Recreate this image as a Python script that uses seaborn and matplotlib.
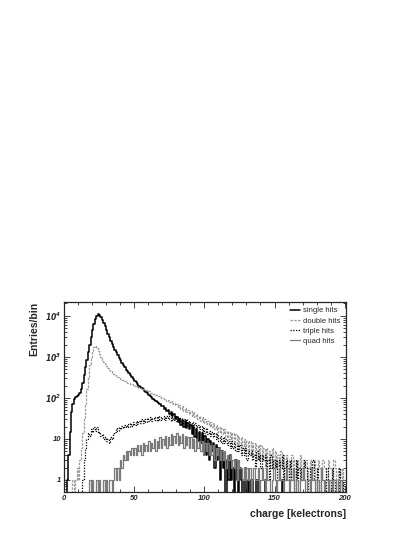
import matplotlib
matplotlib.use("Agg")
import matplotlib.pyplot as plt
from matplotlib.ticker import LogLocator, NullFormatter
import numpy as np
import pandas as pd
import seaborn as sns

# bin centres in kelectrons (1 kelectron bins)
charge = np.arange(200) + 0.5

single_hits = [
    0, 0, 1, 4, 15, 45, 70, 95, 105, 112,
    120, 135, 165, 230, 360, 560, 850, 1300, 2000, 3000,
    4400, 6200, 8200, 10000, 11000, 10500, 9400, 8000, 6700, 5500,
    4500, 3700, 3000, 2500, 2100, 1750, 1500, 1280, 1100, 950,
    820, 720, 630, 560, 490, 440, 395, 355, 320, 290,
    262, 240, 218, 200, 186, 172, 160, 148, 137, 128,
    119, 110, 104, 96, 90, 84, 78, 74, 69, 64,
    62, 55, 57, 47, 50, 41, 45, 36, 40, 31,
    34, 26, 31, 22, 29, 20, 27, 18, 24, 17,
    22, 13, 19, 11, 17, 9, 15, 8, 14, 6,
    12, 4, 10, 3, 9, 5, 8, 2, 7, 3,
    6, 1, 5, 2, 4, 0, 3, 1, 4, 1,
    2, 0, 3, 1, 0, 2, 1, 0, 1, 2,
    0, 1, 0, 1, 1, 0, 0, 1, 0, 0,
    0, 0, 0, 1, 0, 0, 0, 0, 0, 0,
    0, 0, 0, 0, 0, 1, 0, 0, 0, 0,
    0, 0, 0, 0, 0, 0, 0, 0, 0, 0,
    0, 0, 0, 0, 0, 0, 0, 0, 0, 0,
    0, 0, 0, 0, 0, 0, 0, 0, 0, 0,
    0, 0, 0, 0, 0, 0, 0, 0, 0, 0,
]

double_hits = [
    0, 0, 0, 0, 0, 0, 1, 0, 1, 2,
    1, 3, 6, 14, 30, 70, 160, 330, 620, 1000,
    1400, 1750, 1800, 1650, 1400, 1180, 1000, 860, 760, 670,
    600, 540, 490, 450, 415, 385, 360, 340, 320, 305,
    290, 278, 266, 255, 245, 236, 228, 220, 212, 205,
    198, 190, 188, 178, 176, 166, 165, 155, 154, 144,
    144, 134, 134, 125, 126, 116, 117, 108, 110, 100,
    102, 92, 95, 85, 88, 78, 82, 72, 76, 66,
    70, 60, 66, 54, 62, 49, 57, 45, 52, 41,
    48, 37, 44, 34, 40, 31, 37, 28, 34, 25,
    31, 23, 28, 21, 26, 19, 24, 17, 22, 15,
    20, 14, 18, 13, 17, 11, 16, 10, 15, 9,
    14, 8, 13, 7, 12, 7, 11, 6, 10, 5,
    9, 5, 9, 4, 8, 4, 8, 3, 7, 3,
    7, 3, 6, 2, 6, 3, 5, 2, 6, 2,
    5, 2, 4, 1, 5, 2, 4, 1, 4, 2,
    3, 1, 4, 2, 3, 1, 3, 2, 4, 1,
    3, 2, 3, 1, 2, 3, 1, 2, 3, 1,
    2, 3, 2, 1, 3, 2, 2, 1, 3, 2,
    2, 1, 3, 2, 1, 2, 2, 1, 2, 1,
]

triple_hits = [
    0, 0, 0, 0, 0, 0, 0, 0, 0, 0,
    0, 0, 0, 1, 3, 6, 10, 14, 12, 17,
    15, 20, 16, 19, 14, 15, 12, 13, 10, 11,
    9, 10, 8, 11, 10, 13, 15, 18, 16, 20,
    17, 21, 18, 22, 19, 23, 20, 24, 21, 26,
    22, 27, 23, 28, 24, 30, 25, 31, 26, 32,
    27, 34, 28, 33, 29, 35, 28, 36, 29, 35,
    30, 37, 29, 36, 30, 38, 28, 35, 29, 36,
    27, 34, 26, 33, 25, 31, 24, 30, 22, 28,
    21, 26, 19, 24, 18, 22, 17, 21, 15, 19,
    14, 18, 13, 16, 12, 15, 11, 14, 10, 13,
    9, 12, 8, 11, 8, 10, 7, 9, 6, 9,
    6, 8, 5, 7, 5, 7, 4, 6, 4, 6,
    3, 5, 4, 5, 3, 4, 2, 5, 3, 4,
    2, 4, 3, 4, 2, 3, 1, 4, 2, 3,
    2, 3, 1, 3, 2, 4, 1, 2, 3, 1,
    2, 3, 1, 2, 0, 3, 1, 2, 1, 2,
    1, 3, 2, 1, 0, 2, 1, 3, 1, 0,
    2, 1, 0, 2, 1, 1, 0, 2, 1, 0,
    1, 2, 0, 1, 1, 0, 2, 1, 0, 1,
]

quad_hits = [
    0, 0, 0, 0, 0, 0, 0, 0, 0, 0,
    0, 0, 0, 0, 0, 0, 0, 0, 1, 0,
    1, 0, 0, 1, 0, 1, 0, 0, 1, 0,
    1, 0, 1, 1, 0, 1, 2, 1, 2, 1,
    3, 2, 4, 3, 5, 3, 5, 4, 6, 4,
    6, 4, 7, 5, 7, 4, 8, 5, 7, 5,
    9, 5, 8, 6, 10, 5, 9, 6, 11, 6,
    10, 7, 12, 6, 11, 7, 13, 7, 12, 8,
    14, 7, 12, 8, 13, 6, 12, 7, 11, 6,
    11, 6, 10, 5, 10, 6, 9, 5, 9, 4,
    8, 5, 8, 4, 7, 4, 7, 3, 6, 4,
    6, 3, 5, 3, 5, 2, 4, 3, 4, 2,
    3, 2, 3, 1, 3, 2, 2, 1, 2, 1,
    2, 1, 2, 0, 1, 2, 1, 1, 2, 0,
    1, 2, 1, 0, 2, 1, 1, 0, 1, 2,
    1, 0, 1, 2, 1, 1, 0, 1, 2, 1,
    0, 1, 1, 2, 0, 1, 1, 0, 1, 1,
    2, 1, 0, 1, 1, 0, 2, 1, 1, 0,
    1, 1, 0, 2, 1, 0, 1, 1, 0, 1,
    1, 0, 1, 1, 0, 1, 1, 0, 1, 1,
]

series_labels = ["single hits", "double hits", "triple hits", "quad hits"]
x_ticks = [0, 50, 100, 150, 200]
y_ticks = [1, 10, 100, 1000, 10000]
y_ticklabels = ["1", "10", r"$10^{2}$", r"$10^{3}$", r"$10^{4}$"]

sns.set_style("ticks")
plt.rcParams["font.family"] = ["Liberation Sans", "DejaVu Sans"]
plt.rcParams["mathtext.default"] = "bfit"

fig = plt.figure(figsize=(4.15, 5.37), dpi=100)
ax = fig.add_axes([0.154, 0.084, 0.680, 0.354])

styles = [
    dict(color="black", linestyle="-", linewidth=1.1),
    dict(color="#9a9a9a", linestyle=(0, (2, 1)), linewidth=0.9),
    dict(color="black", linestyle=(0, (1, 1.2)), linewidth=0.9),
    dict(color="#7a7a7a", linestyle="-", linewidth=0.9),
]
for label, counts, st in zip(series_labels, [single_hits, double_hits, triple_hits, quad_hits], styles):
    df = pd.DataFrame({"charge": charge, "entries": counts})
    sns.lineplot(data=df, x="charge", y="entries", ax=ax, drawstyle="steps-mid",
                 estimator=None, label=label, **st)

ax.set_yscale("log")
ax.set_xlim(0, 201)
ax.set_ylim(0.51, 2.2e4)

ax.set_xticks(x_ticks)
ax.set_xticklabels([str(t) for t in x_ticks], fontstyle="italic", fontweight="bold", fontsize=5.5)
ax.set_xticks(np.arange(0, 201, 10), minor=True)
ax.set_yticks(y_ticks)
ax.set_yticklabels(y_ticklabels, fontstyle="italic", fontweight="bold", fontsize=5.5)
ax.yaxis.set_minor_locator(LogLocator(base=10, subs=np.arange(2, 10), numticks=100))
ax.yaxis.set_minor_formatter(NullFormatter())

ax.tick_params(which="both", direction="in", top=True, right=True, width=0.6, pad=2)
ax.tick_params(which="major", length=4)
ax.tick_params(which="minor", length=2)
for sp in ax.spines.values():
    sp.set_linewidth(0.9)

ax.set_xlabel("charge [kelectrons]", loc="right", fontsize=7.5, fontweight="bold", labelpad=5)
ax.set_ylabel("Entries/bin", loc="top", fontsize=7.5, fontweight="bold", labelpad=4)

ax.legend(loc="upper right", frameon=False, fontsize=5.5, handlelength=1.4,
          handletextpad=0.4, labelspacing=0.35, borderaxespad=0.3)

fig.savefig("out.png", dpi=100)
